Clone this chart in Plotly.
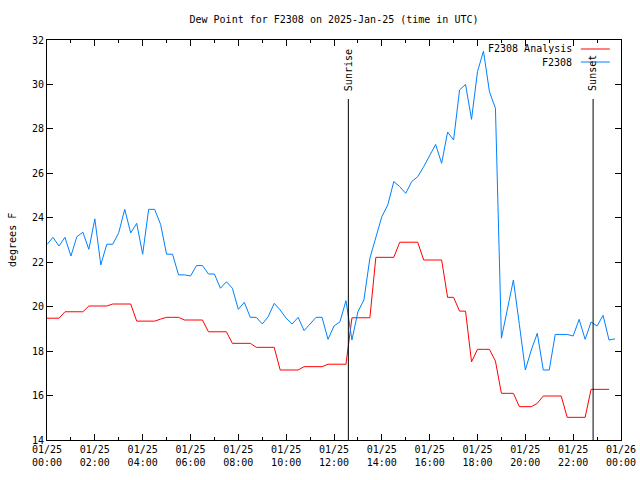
import plotly.graph_objects as go
import pandas as pd

times = pd.date_range("2025-01-25 00:00", periods=96, freq="15min")

dew_obs = [22.8, 23.12, 22.73, 23.12, 22.28, 23.15, 23.35, 22.58, 23.95, 21.88,
           22.81, 22.81, 23.33, 24.38, 23.32, 23.75, 22.36, 24.38, 24.38, 23.7,
           22.36, 22.36, 21.43, 21.43, 21.38, 21.85, 21.85, 21.47, 21.47, 20.83,
           21.12, 20.83, 19.88, 20.2, 19.52, 19.52, 19.22, 19.55, 20.15, 19.85,
           19.48, 19.22, 19.52, 18.92, 19.22, 19.52, 19.52, 18.53, 19.13, 19.32,
           20.27, 18.5, 19.77, 20.3, 22.18, 23.15, 24.05, 24.58, 25.63, 25.4,
           25.1, 25.63, 25.85, 26.3, 26.83, 27.3, 26.45, 27.86, 27.5, 29.75,
           30.0, 28.43, 30.58, 31.5, 29.67, 28.93, 18.58, 19.93, 21.2, 19.2,
           17.15, 18.05, 18.8, 17.15, 17.15, 18.75, 18.75, 18.75, 18.68, 19.43,
           18.53, 19.31, 19.13, 19.61, 18.5, 18.55]

dew_analysis = ([19.48] * 3 + [19.77] * 4 + [20.03] * 4 + [20.12] * 4 + [19.35] * 4 +
                [19.44] + [19.52] * 3 + [19.4] * 4 + [18.87] * 4 + [18.35] * 4 +
                [18.17] * 4 + [17.15] * 4 + [17.3] * 4 + [17.41] * 4 + [19.5] * 4 +
                [22.22] * 4 + [22.9] * 4 + [22.1] * 4 + [20.42] * 2 + [19.8] * 2 +
                [17.52] + [18.08] * 3 + [17.55] + [16.1] * 3 + [15.5] * 3 + [15.65] +
                [15.98] * 4 + [15.02] * 4 + [16.28] * 4)

sun_events = ["Sunrise", "Sunset"]
sun_times = ["2025-01-25 12:36", "2025-01-25 22:50"]

y_ticks = [14, 16, 18, 20, 22, 24, 26, 28, 30, 32]

FONT = "DejaVu Sans Mono"
RED = "#ff0000"
BLUE = "#0080ff"

fig = go.Figure()
fig.add_trace(go.Scatter(x=times[:len(dew_analysis)], y=dew_analysis, mode="lines",
                         name="F2308 Analysis", line=dict(color=RED, width=1)))
fig.add_trace(go.Scatter(x=times, y=dew_obs, mode="lines",
                         name="F2308", line=dict(color=BLUE, width=1)))

for name, t in zip(sun_events, sun_times):
    fig.add_shape(type="line", xref="x", yref="paper", x0=t, x1=t, y0=0, y1=0.8525,
                  line=dict(color="black", width=1))
    fig.add_annotation(x=t, xref="x", y=0.868, yref="paper", text=name,
                       textangle=-90, showarrow=False, xanchor="center", yanchor="bottom",
                       font=dict(family=FONT, size=10, color="black"))

# gnuplot-style key (text left of line sample)
key_rows = [("F2308 Analysis", RED, 0.9775), ("F2308", BLUE, 0.945)]
for label, col, yy in key_rows:
    fig.add_annotation(x=0.918, y=yy, xref="paper", yref="paper", text=label,
                       showarrow=False, xanchor="right", yanchor="middle",
                       font=dict(family=FONT, size=10, color="black"))
    fig.add_shape(type="line", xref="paper", yref="paper", x0=0.930, x1=0.9805,
                  y0=yy, y1=yy, line=dict(color=col, width=1))

fig.add_annotation(x=-0.061, y=0.5, xref="paper", yref="paper", text="degrees F",
                   textangle=-90, showarrow=False, xanchor="center", yanchor="middle",
                   font=dict(family=FONT, size=10, color="black"))

fig.update_layout(
    width=640, height=480,
    margin=dict(l=47, r=19, t=40, b=40, autoexpand=False),
    paper_bgcolor="white", plot_bgcolor="white",
    showlegend=False,
    font=dict(family=FONT, size=10, color="black"),
    title=dict(text="Dew Point for F2308 on 2025-Jan-25 (time in UTC)",
               x=0.5, xref="paper", xanchor="center",
               y=1 - 19 / 480, yref="container", yanchor="middle",
               font=dict(family=FONT, size=10, color="black")),
    xaxis=dict(type="date", range=["2025-01-25 00:00", "2025-01-26 00:00"],
               tickformat="%m/%d<br>%H:%M", dtick=7200000, tick0="2025-01-25 00:00",
               ticks="inside", ticklen=6, tickcolor="black", automargin=False,
               showline=True, linecolor="black", linewidth=1, mirror="allticks",
               showgrid=False, zeroline=False,
               minor=dict(ticks="inside", ticklen=3, dtick=3600000, tickcolor="black",
                          showgrid=False),
               tickfont=dict(family=FONT, size=10, color="black")),
    yaxis=dict(range=[14, 32], tickvals=y_ticks, ticktext=[str(v) for v in y_ticks],
               ticks="inside", ticklen=6, tickcolor="black", automargin=False,
               showline=True, linecolor="black", linewidth=1, mirror="allticks",
               showgrid=False, zeroline=False,
               tickfont=dict(family=FONT, size=10, color="black")),
)

fig.write_html("out.html")
